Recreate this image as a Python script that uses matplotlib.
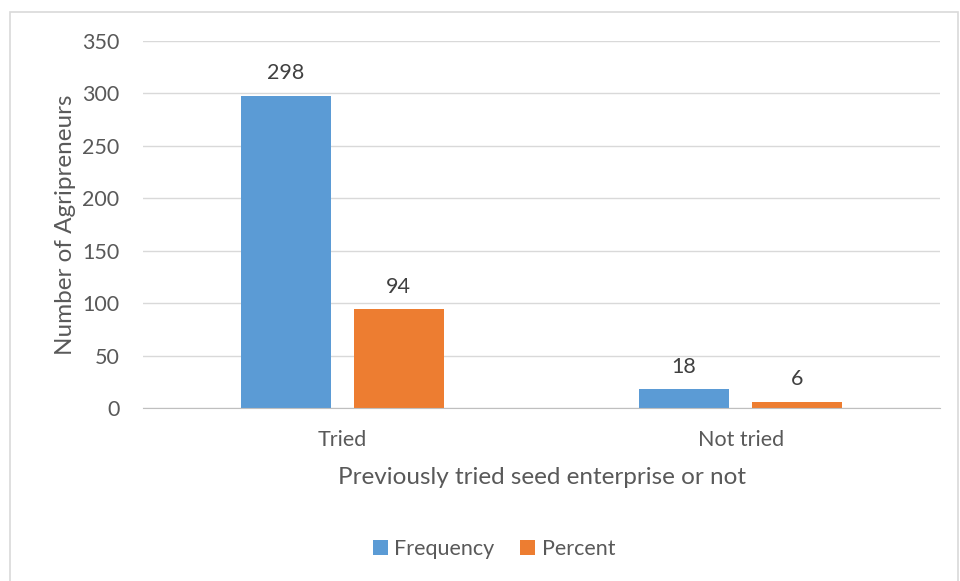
import matplotlib.pyplot as plt
from matplotlib.patches import Rectangle
import numpy as np

categories = ['Tried', 'Not tried']
frequency = [298, 18]
percent = [94, 6]
series_names = ['Frequency', 'Percent']

plt.rcParams['font.family'] = ['Lato', 'DejaVu Sans']
txt = '#595959'

fig = plt.figure(figsize=(9.6, 5.81), dpi=100)
ax = fig.add_axes([143/960, 1 - 408/581, 797/960, 367/581])

x = np.arange(len(categories))
w = 0.226
b1 = ax.bar(x - 0.142, frequency, w, color='#5B9BD5', label=series_names[0])
b2 = ax.bar(x + 0.142, percent, w, color='#ED7D31', label=series_names[1])
for bars in (b1, b2):
    for r in bars:
        ax.text(r.get_x() + r.get_width() / 2, r.get_height() + 12,
                f'{int(r.get_height())}', ha='center', va='bottom',
                fontsize=15.5, color='#404040')

ax.set_xlim(-0.5, 1.5)
ax.set_ylim(0, 350)
ax.set_yticks(range(0, 351, 50))
ax.yaxis.grid(True, color='#D9D9D9', linewidth=1)
ax.set_axisbelow(True)
for s in ['left', 'right', 'top']:
    ax.spines[s].set_visible(False)
ax.spines['bottom'].set_color('#BFBFBF')
ax.tick_params(length=0, labelsize=15.5, colors=txt)
ax.tick_params(axis='x', pad=16)
ax.tick_params(axis='y', pad=17)
ax.set_xticks(x)
ax.set_xticklabels(categories)

ax.set_ylabel('Number of Agripreneurs', fontsize=17.5, color=txt, labelpad=4)
ax.set_xlabel('Previously tried seed enterprise or not', fontsize=17.5,
              color=txt, labelpad=12)

fig.legend(loc='center', bbox_to_anchor=(494/960, 1 - 549/581), ncol=2,
           frameon=False, fontsize=15.5, labelcolor=txt, handlelength=0.7,
           handleheight=0.7, handletextpad=0.3, columnspacing=1.2)

fig.patches.append(Rectangle((10/960, -0.01), 948/960, 1 - 12/581 + 0.01,
                             transform=fig.transFigure, fill=False,
                             edgecolor='#D9D9D9', linewidth=1.2))

fig.savefig('out.png', dpi=100)
